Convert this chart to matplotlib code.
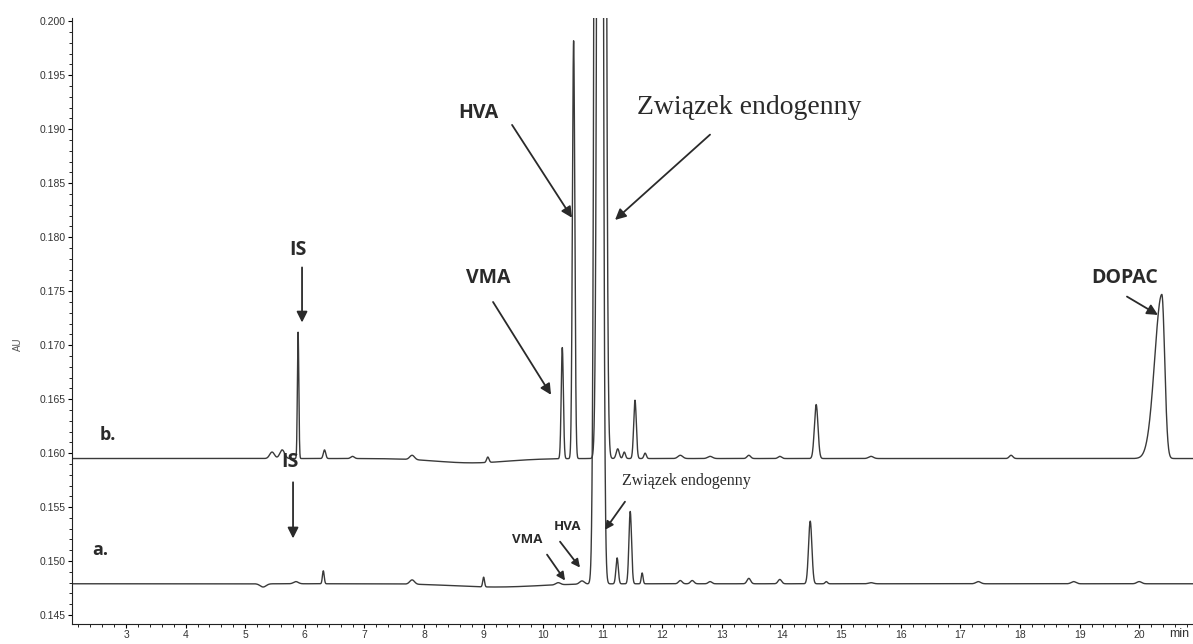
import matplotlib.pyplot as plt
import numpy as np
from matplotlib.ticker import MultipleLocator, FormatStrFormatter

# retention time (min), apex absorbance (AU), peak width (min), right/left width ratio
b_baseline = 0.1595
b_rt = [5.45, 5.62, 5.887, 6.33, 6.8, 7.8, 8.8, 9.07, 10.32, 10.51, 10.98,
        11.25, 11.36, 11.54, 11.71, 12.3, 12.8, 13.45, 13.97, 14.58, 15.5,
        17.85, 20.38]
b_apex = [0.1601, 0.1603, 0.1712, 0.1603, 0.1597, 0.1599, 0.1591, 0.1600,
          0.1698, 0.1982, 0.6000, 0.1604, 0.1601, 0.1649, 0.1600, 0.1598,
          0.1597, 0.1598, 0.1597, 0.1645, 0.1597, 0.1598, 0.1747]
b_width = [0.04, 0.04, 0.012, 0.02, 0.03, 0.04, 0.6, 0.02, 0.018, 0.02, 0.04,
           0.025, 0.02, 0.022, 0.02, 0.04, 0.04, 0.03, 0.03, 0.03, 0.04,
           0.03, 0.12]
b_asym = [1, 1, 1, 1, 1, 1, 1, 1, 1, 1, 1, 1, 1, 1, 1, 1, 1, 1, 1, 1, 1, 1, 0.4]

a_baseline = 0.1479
a_rt = [5.3, 5.85, 6.31, 7.8, 9.0, 9.2, 10.25, 10.65, 10.93, 11.24, 11.46,
        11.66, 12.3, 12.5, 12.8, 13.45, 13.97, 14.48, 14.75, 15.5, 17.3,
        18.9, 20.0]
a_apex = [0.1476, 0.1481, 0.1491, 0.1483, 0.1488, 0.1476, 0.1481, 0.1482,
          0.6000, 0.1503, 0.1546, 0.1489, 0.1482, 0.1482, 0.1481, 0.1484,
          0.1483, 0.1537, 0.1481, 0.1480, 0.1481, 0.1481, 0.1481]
a_width = [0.05, 0.04, 0.015, 0.04, 0.015, 0.7, 0.04, 0.04, 0.04, 0.02,
           0.022, 0.015, 0.03, 0.03, 0.03, 0.03, 0.03, 0.028, 0.02, 0.04,
           0.04, 0.04, 0.04]

x_ticks = list(range(3, 21))


def trace(t, baseline, rt, apex, width, asym=None):
    y = np.full_like(t, baseline)
    if asym is None:
        asym = [1.0] * len(rt)
    for c, h, w, s in zip(rt, apex, width, asym):
        sig = np.where(t < c, w, w * s)
        y += (h - baseline) * np.exp(-0.5 * ((t - c) / sig) ** 2)
    return y


t = np.linspace(2.094, 20.903, 8000)
sig_b = trace(t, b_baseline, b_rt, b_apex, b_width, b_asym)
sig_a = trace(t, a_baseline, a_rt, a_apex, a_width)

fig = plt.figure(figsize=(11.93, 6.44), dpi=100)
ax = fig.add_axes([0.0604, 0.031, 0.9396, 0.941])

line_color = "#3a3a3a"
ax.plot(t, sig_b, color=line_color, lw=1.0)
ax.plot(t, sig_a, color=line_color, lw=1.0)

ax.set_xlim(2.094, 20.903)
ax.set_ylim(0.14417, 0.2003)
ax.spines["top"].set_visible(False)
ax.spines["right"].set_visible(False)
ax.spines["left"].set_color("#222222")
ax.spines["bottom"].set_color("#222222")

ax.set_xticks(x_ticks)
ax.xaxis.set_minor_locator(MultipleLocator(0.2))
ax.yaxis.set_major_locator(MultipleLocator(0.005))
ax.yaxis.set_minor_locator(MultipleLocator(0.001))
ax.yaxis.set_major_formatter(FormatStrFormatter("%.3f"))
ax.tick_params(which="major", direction="out", length=3, width=0.8,
               labelsize=7.5, labelcolor="#333333", pad=1.5,
               labelfontfamily="Liberation Sans")
ax.tick_params(which="minor", direction="out", length=2, width=0.6)

ax.text(0.988, -0.006, "min", transform=ax.transAxes, ha="center",
        va="top", fontsize=9, color="#333333", family="Liberation Sans")
fig.text(0.015, 0.465, "AU", rotation=90, ha="center", va="center",
         fontsize=7, color="#555555", family="Liberation Sans")

label_kw = dict(ha="center", va="center", color="#2a2a2a",
                family="Open Sans", fontweight="bold")
arrow_kw = dict(arrowstyle="-|>", color="#2a2a2a", lw=1.3,
                mutation_scale=16, shrinkA=0, shrinkB=0)


def arrow(tail, head, scale=16):
    kw = dict(arrow_kw, mutation_scale=scale)
    ax.annotate("", xy=head, xytext=tail, arrowprops=kw)


# upper trace (b)
ax.text(5.886, 0.1788, "IS", fontsize=14, **label_kw)
arrow((5.953, 0.1772), (5.953, 0.1721))
ax.text(9.074, 0.1762, "VMA", fontsize=14, **label_kw)
arrow((9.158, 0.1740), (10.131, 0.1654))
ax.text(8.906, 0.1915, "HVA", fontsize=14, **label_kw)
arrow((9.477, 0.1904), (10.483, 0.1818))
ax.text(13.45, 0.1920, "Związek endogenny", fontsize=20, ha="center",
        va="center", color="#2a2a2a", family="Liberation Serif")
arrow((12.799, 0.1895), (11.205, 0.1816))
ax.text(19.762, 0.1762, "DOPAC", fontsize=14, **label_kw)
arrow((19.795, 0.1745), (20.315, 0.1728))
ax.text(2.698, 0.1617, "b.", fontsize=13, **label_kw)

# lower trace (a)
ax.text(2.564, 0.1510, "a.", fontsize=13, **label_kw)
ax.text(5.752, 0.1592, "IS", fontsize=14, **label_kw)
arrow((5.802, 0.1573), (5.802, 0.1521))
ax.text(9.728, 0.1520, "VMA", fontsize=9.5, **label_kw)
arrow((10.064, 0.1506), (10.366, 0.1482), scale=12)
ax.text(10.399, 0.1532, "HVA", fontsize=9.5, **label_kw)
arrow((10.282, 0.1518), (10.617, 0.1494), scale=12)
ax.text(12.40, 0.1574, "Związek endogenny", fontsize=11.5, ha="center",
        va="center", color="#2a2a2a", family="Liberation Serif")
arrow((11.372, 0.1555), (11.037, 0.1529), scale=12)

fig.savefig("out.png", dpi=100)
